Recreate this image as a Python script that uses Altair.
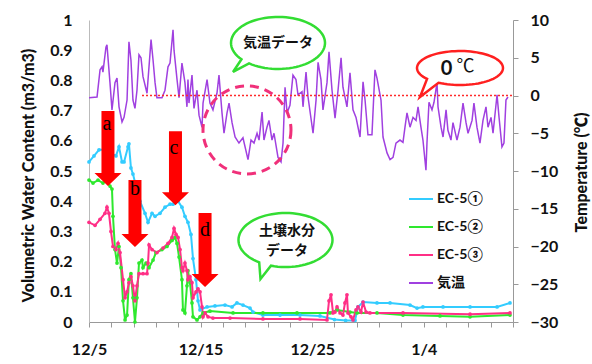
import math
import altair as alt
import pandas as pd

# ---------------- data (days after 12/5) ----------------
temp_day = [0.00, 0.72, 0.99, 1.17, 1.25, 1.52, 1.61, 1.88, 2.06, 2.33, 2.51, 2.69, 2.96, 3.14, 3.41, 3.58, 3.76, 3.94,
            4.12, 4.30, 4.48, 4.66, 4.84, 5.20, 5.56, 5.74, 5.92, 6.09, 6.54, 6.81, 7.08, 7.26, 7.53, 7.62, 7.89, 8.07,
            8.33, 8.60, 8.78, 8.87, 8.96, 9.23, 9.41, 9.68, 9.86, 10.13, 10.22, 10.58, 10.84, 11.11, 11.47, 11.65, 11.92,
            12.10, 12.37, 12.55, 12.82, 13.09, 13.44, 13.80, 14.25, 14.52, 14.79, 15.06, 15.24, 15.51, 15.68, 15.95,
            16.13, 16.40, 16.58, 16.94, 17.21, 17.39, 17.57, 17.75, 18.01, 18.28, 18.55, 18.73, 19.09, 19.18, 19.45,
            19.63, 20.08, 20.35, 20.53, 20.79, 20.97, 21.33, 21.51, 21.78, 22.05, 22.32, 22.59, 22.76, 23.12, 23.39,
            23.66, 23.93, 24.29, 24.56, 24.74, 25.00, 25.36, 25.63, 25.81, 26.17, 26.35, 26.71, 26.98, 27.25, 27.51,
            27.87, 28.14, 28.32, 28.50, 28.77, 29.04, 29.31, 29.49, 29.75, 29.93, 30.20, 30.29, 30.47, 30.74, 30.92,
            31.19, 31.28, 31.55, 31.73, 32.00, 32.17, 32.44, 32.62, 32.98, 33.25, 33.52, 33.79, 33.97, 34.33, 34.50,
            34.77, 35.04, 35.31, 35.58, 35.76, 36.03, 36.21, 36.57, 36.75, 37.01, 37.19, 37.37, 37.55]
temp_val = [-0.3, -0.2, 3.4, 3.8, 3.1, 6.4, 6.7, 1.7, -1.9, 1.7, 2.3, -1.5, -3.5, -2.9, -0.6, 7.1, 4.7, -0.6,
            -1.7, 0.7, 5.4, 5.0, 2.5, 0.3, 7.4, 4.7, 1.7, -0.3, -0.3, 0.7, 3.8, 4.3, 8.7, 6.0, 2.1, -0.3,
            4.3, 1.7, -1.5, 2.1, -1.0, 2.7, -1.7, 0.7, -2.6, -4.2, -1.0, 2.1, -1.0, -1.9, 0.3, 2.7, -2.3,
            -5.0, -2.3, -1.0, -3.6, -5.5, -6.3, -5.6, -8.5, -5.9, -6.3, -5.0, -5.9, -2.2, -5.9, -4.2,
            -3.3, -5.9, -5.0, -8.2, -8.8, -6.3, 1.1, -2.3, -1.3, 2.7, 2.1, 0.1, 0.5, -1.5, 3.1,
            -0.2, -5.0, -0.6, 4.4, 2.1, -1.9, 1.7, 5.8, 0.7, -3.0, 0.7, 5.0, 1.1, -1.5, 3.0,
            -1.9, -2.9, -5.5, 1.8, -0.6, -5.2, -5.2, 3.4, 2.3, -0.6, -5.5, -7.6, -8.5, -8.2, -6.3,
            -5.9, -6.2, -4.2, -2.3, -4.2, -2.9, -3.3, -1.5, -4.2, -5.9, -9.9, -6.3, -0.9, -1.9, -0.9,
            1.7, -1.5, -4.2, -5.5, -1.9, -4.6, -5.9, -3.6, -5.9, -4.2, -1.0, -3.6, -5.0, -3.3, -1.0,
            -4.2, -6.3, -3.3, -1.5, -4.2, -2.9, -5.0, 0.1, -2.9, -6.8, -6.3, -0.6, -0.2]

ec1_day = [0.00, 0.45, 0.90, 1.34, 1.88, 2.42, 2.69, 2.96, 3.14, 3.50, 3.58, 3.76, 3.94, 4.21, 4.57, 5.02, 5.29,
           5.65, 5.92, 6.36, 6.81, 7.26, 7.53, 7.98, 8.33, 8.60, 8.87, 9.14, 9.32, 9.59, 9.77, 9.95, 10.58, 11.29,
           12.19, 12.82, 13.26, 13.80, 14.43, 14.70, 15.59, 17.12, 18.91, 20.70, 22.00, 23.00, 23.84, 24.11, 24.56,
           25.81, 26.98, 28.77, 29.40, 29.93, 31.73, 34.15, 36.57, 37.73]
ec1_val = [0.53, 0.55, 0.57, 0.57, 0.56, 0.55, 0.58, 0.53, 0.53, 0.58, 0.59, 0.51, 0.49, 0.45, 0.40, 0.36, 0.33,
           0.36, 0.35, 0.36, 0.38, 0.39, 0.39, 0.40, 0.38, 0.35, 0.33, 0.29, 0.21, 0.14, 0.07, 0.04, 0.05, 0.053,
           0.056, 0.05, 0.063, 0.056, 0.046, 0.033, 0.023, 0.023, 0.023, 0.02, 0.008, 0.005, 0.005, 0.05, 0.066,
           0.063, 0.063, 0.056, 0.046, 0.05, 0.05, 0.05, 0.05, 0.063]

ec2_day = [0.00, 0.36, 0.81, 1.25, 1.61, 1.88, 2.06, 2.15, 2.33, 2.51, 2.69, 2.87, 3.05, 3.23, 3.41, 3.58, 3.76,
           3.94, 4.12, 4.30, 4.48, 4.75, 4.84, 5.11, 5.38, 5.74, 6.00, 6.54, 6.99, 7.44, 7.71, 7.89, 8.07, 8.33,
           8.42, 8.60, 8.78, 8.87, 9.05, 9.23, 9.32, 9.68, 9.95, 10.22, 10.84, 12.91, 15.59, 18.64, 21.60, 22.23,
           23.39, 24.02, 25.81, 28.14, 31.46, 34.15, 37.73]
ec2_val = [0.47, 0.46, 0.47, 0.46, 0.47, 0.45, 0.44, 0.35, 0.24, 0.195, 0.25, 0.18, 0.07, 0.007, 0.023, 0.14, 0.16,
           0.08, 0.0, 0.08, 0.195, 0.205, 0.18, 0.195, 0.18, 0.205, 0.23, 0.24, 0.25, 0.27, 0.28, 0.26, 0.215, 0.14,
           0.04, 0.03, 0.12, 0.17, 0.13, 0.063, 0.017, 0.007, 0.017, 0.03, 0.036, 0.03, 0.03, 0.03, 0.03, 0.04,
           0.033, 0.03, 0.03, 0.023, 0.02, 0.017, 0.023]

ec3_day = [0.00, 0.54, 0.99, 1.43, 1.61, 1.79, 1.97, 2.15, 2.42, 2.60, 2.78, 3.05, 3.23, 3.41, 3.58, 3.76, 3.94,
           4.12, 4.30, 4.48, 4.84, 5.20, 5.29, 5.38, 5.65, 6.09, 6.63, 7.08, 7.44, 7.62, 7.80, 7.98, 8.16, 8.33,
           8.42, 8.60, 8.78, 8.87, 9.05, 9.23, 9.32, 9.59, 9.77, 9.95, 10.13, 10.22, 10.40, 10.67, 11.11, 12.64,
           15.59, 18.91, 21.33, 21.51, 21.69, 21.87, 22.05, 22.23, 22.50, 22.76, 22.94, 23.12, 23.21, 23.48, 23.66,
           23.93, 24.11, 24.38, 24.56, 24.83, 25.18, 28.14, 34.15, 37.73]
ec3_val = [0.33, 0.32, 0.34, 0.36, 0.38, 0.36, 0.30, 0.25, 0.24, 0.26, 0.23, 0.14, 0.08, 0.10, 0.13, 0.15, 0.12,
           0.07, 0.12, 0.16, 0.16, 0.16, 0.195, 0.255, 0.24, 0.23, 0.245, 0.26, 0.28, 0.31, 0.29, 0.28, 0.24, 0.18,
           0.17, 0.195, 0.17, 0.14, 0.15, 0.13, 0.08, 0.10, 0.11, 0.10, 0.05, 0.017, 0.03, 0.017, 0.013, 0.013,
           0.01, 0.01, 0.007, 0.07, 0.09, 0.03, 0.033, 0.05, 0.03, 0.023, 0.063, 0.09, 0.03, 0.017, 0.007,
           0.04, 0.05, 0.033, 0.066, 0.033, 0.03, 0.03, 0.026, 0.03]

series_names = ["EC-5①", "EC-5②", "EC-5③", "気温"]
series_colors = ["#33CCFF", "#2EE82E", "#FF2F86", "#A040E0"]

x_tick_days = list(range(0, 39, 2))
x_label_days = [0, 10, 20, 30]
x_labels = ["12/5", "12/15", "12/25", "1/4"]
vwc_ticks = [round(i * 0.1, 1) for i in range(11)]
temp_ticks = list(range(-30, 11, 5))

# annotations, anchored in data coordinates (day, volumetric water content)
arrow_ids = ["a", "b", "c", "d"]
arrow_tip_day = [1.70, 4.12, 7.75, 10.40]
arrow_tip_vwc = [0.450, 0.248, 0.387, 0.116]
letter_day = [1.61, 4.12, 7.62, 10.40]
letter_vwc = [0.656, 0.440, 0.576, 0.305]

zero_from_day, zero_to_day, zero_temp = [4.75], [38.0], [0.0]

# ---------------- geometry helpers ----------------
FONT = "Lato, 'Noto Sans CJK JP', sans-serif"
JP = "'Noto Sans CJK JP', sans-serif"


def arrow_path(length):
    return (f"M0,0 L-13.5,-13 L-6.5,-13 L-6.5,-{length} L6.5,-{length} "
            f"L6.5,-13 L13.5,-13 Z")


def callout_path(rx, ry, t1, t2, tx, ty, n=80):
    pts = [(tx, ty)]
    for i in range(n + 1):
        a = math.radians(t2 + (t1 + 360 - t2) * i / n)
        pts.append((rx * math.cos(a), ry * math.sin(a)))
    return "M" + " L".join(f"{x:.2f},{y:.2f}" for x, y in pts) + " Z"


arrow_paths = [arrow_path(L) for L in (75, 67, 74, 74)]

X_SCALE = alt.Scale(domain=[0, 38], nice=False, zero=False)
V_SCALE = alt.Scale(domain=[0, 1], nice=False, zero=False)
T_SCALE = alt.Scale(domain=[-30, 10], nice=False, zero=False)

label_expr = "".join(f"datum.value == {d} ? '{l}' : " for d, l in zip(x_label_days, x_labels)) + "''"

x_axis = alt.Axis(values=x_tick_days, labelExpr=label_expr, tickSize=5, tickColor="#999", domainColor="#999",
                  labelFont=FONT, labelFontSize=16, labelFontWeight="bold", labelPadding=14, labelAngle=0,
                  labelOverlap=False, labelFlush=False, grid=False, title=None, labelColor="#111")

y_left_axis = alt.Axis(orient="left", values=vwc_ticks, format=".1~f", ticks=False, labelPadding=17,
                       domainColor="#BBB", grid=False, labelFont=FONT, labelFontSize=16, labelFontWeight="bold",
                       labelColor="#111", title="Volumetric Water Content (m3/m3)", titleFont=FONT,
                       titleFontSize=16, titleFontWeight=900, titleX=-61, titleY=155, titleAngle=270,
                       titleAlign="center", titleBaseline="middle", titleColor="#111", labelFlush=False)
y_right_axis = alt.Axis(orient="right", values=temp_ticks, tickSize=5, tickColor="#999", domainColor="#999",
                        labelPadding=12, grid=False, labelFont=FONT, labelFontSize=16, labelFontWeight="bold",
                        labelColor="#111", title="Temperature (℃)", titleFont=FONT, titleFontSize=16,
                        titleFontWeight=900, titleX=68, titleY=152, titleAngle=270, titleAlign="center",
                        titleBaseline="middle", titleColor="#111", labelFlush=False)

X = alt.X("day:Q", scale=X_SCALE, axis=x_axis, title=None)
YL = alt.Y("val:Q", scale=V_SCALE, axis=y_left_axis, title="Volumetric Water Content (m3/m3)")
YR = alt.Y("val:Q", scale=T_SCALE, axis=y_right_axis, title="Temperature (℃)")

color = alt.Color("series:N", scale=alt.Scale(domain=series_names, range=series_colors),
                  legend=alt.Legend(orient="none", legendX=319, legendY=166, title=None, symbolType="stroke",
                                    symbolSize=576, symbolStrokeWidth=2, labelFont=FONT, labelFontSize=14,
                                    labelFontWeight="bold", labelColor="#111", rowPadding=8, labelOffset=3,
                                    padding=0, symbolOffset=0))

# ---------------- tables ----------------
moist = pd.concat([
    pd.DataFrame({"day": ec1_day, "val": ec1_val, "series": series_names[0]}),
    pd.DataFrame({"day": ec2_day, "val": ec2_val, "series": series_names[1]}),
    pd.DataFrame({"day": ec3_day, "val": ec3_val, "series": series_names[2]}),
], ignore_index=True)
temp = pd.DataFrame({"day": temp_day, "val": temp_val, "series": series_names[3]})
zero_df = pd.DataFrame({"day": zero_from_day, "day2": zero_to_day, "val": zero_temp})
arrows_df = pd.DataFrame({"id": arrow_ids, "day": arrow_tip_day, "val": arrow_tip_vwc})
letters_df = pd.DataFrame({"id": arrow_ids, "day": letter_day, "val": letter_vwc})

# ---------------- layers ----------------
temp_line = alt.Chart(temp).mark_line(strokeWidth=1.5).encode(x=X, y=YR, color=color)
zero_rule = alt.Chart(zero_df).mark_rule(strokeWidth=1.3, strokeDash=[2, 2]).encode(
    x=X, x2="day2:Q", y=YR, color=alt.value("#FF2A2A"))

moist_line = alt.Chart(moist).mark_line(strokeWidth=2).encode(x=X, y=YL, color=color)
moist_pts = alt.Chart(moist).mark_circle(size=14, opacity=1).encode(x=X, y=YL, color=color)

arrows = alt.Chart(arrows_df).mark_point(filled=True, opacity=1, color="#FF0000", strokeWidth=0).encode(
    x=X, y=YL,
    shape=alt.Shape("id:N", scale=alt.Scale(domain=arrow_ids, range=arrow_paths), legend=None),
    size=alt.value(4))
letters = alt.Chart(letters_df).mark_text(font="Liberation Serif", fontSize=20, color="black",
                                          baseline="middle").encode(x=X, y=YL, text="id:N")

circle = alt.Chart(pd.DataFrame({"day": [14.16], "val": [0.636]})).mark_point(
    shape="circle", filled=False, stroke="#F0307A", strokeWidth=3, strokeDash=[9, 6], opacity=1).encode(
    x=X, y=YL, size=alt.value(88 * 88))


def callout(day, vwc, path, edge):
    return alt.Chart(pd.DataFrame({"day": [day], "val": [vwc]})).mark_point(
        shape=path, filled=True, fill="white", stroke=edge, strokeWidth=2.5, opacity=1, fillOpacity=1).encode(
        x=X, y=YL, size=alt.value(4))


def label(day, vwc, text, font, size, weight="normal", align="center"):
    return alt.Chart(pd.DataFrame({"day": [day], "val": [vwc], "t": [text]})).mark_text(
        font=font, fontSize=size, fontWeight=weight, color="#111", baseline="middle", align=align).encode(
        x=X, y=YL, text="t:N")


c1 = callout(16.94, 0.924, callout_path(47, 26, 128, 141, -45, 29), "#33DD33")
c2 = callout(33.25, 0.841, callout_path(43, 17, 120, 140, -40, 29), "#FF2020")
c3 = callout(17.61, 0.2715, callout_path(47, 27, 108, 124, -25, 39), "#33DD33")
t1 = label(16.94, 0.924, "気温データ", JP, 14, "bold")
t2a = label(32.05, 0.838, "0", FONT, 20, "bold")
t2b = label(33.75, 0.846, "℃", JP, 18)
t3a = label(17.75, 0.300, "土壌水分", JP, 14, "bold")
t3b = label(17.75, 0.235, "データ", JP, 14, "bold")

right_group = alt.layer(temp_line, zero_rule)
left_group = alt.layer(moist_line, moist_pts, arrows, letters, circle, c1, c2, c3, t1, t2a, t2b, t3a, t3b)

chart = alt.layer(right_group, left_group).resolve_scale(y="independent").properties(
    width=424, height=302,
    autosize=alt.AutoSizeParams(type="none"),
    padding={"left": 89, "top": 20, "right": 79, "bottom": 42},
    background="white",
).configure_view(stroke=None)

chart.save("out.html", embed_options={"renderer": "svg", "actions": False})
